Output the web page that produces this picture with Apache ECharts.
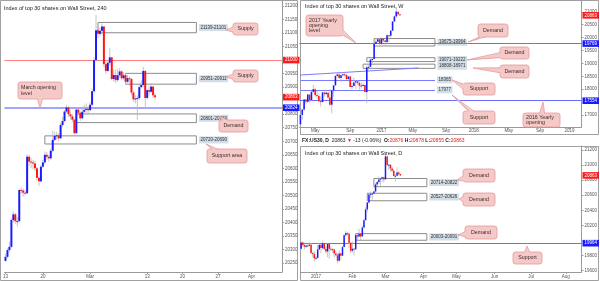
<!DOCTYPE html>
<html><head><meta charset="utf-8">
<script src="https://cdn.jsdelivr.net/npm/echarts@6/dist/echarts.min.js"></script>
<style>html,body{margin:0;padding:0;background:#fff}#c{width:600px;height:281px}</style>
</head><body><div id="c"></div>
<script>
// ---------------- DATA ----------------
// 240-minute chart (left): closes, lows, highs (open = previous close)
const h4FirstOpen = 20258;
const h4Close = [20273,20298,20310,20409,20430,20405,20405,20520,20518,20510,20508,20643,20625,20622,20618,20600,20565,20552,20606,20622,20650,20643,20637,20665,20705,20720,20722,20711,20760,20775,20810,20825,20800,20792,20780,20730,20817,20805,20785,20809,20816,20820,20815,20835,20885,21000,21110,21097,21108,21124,20985,20960,20990,21010,20930,20945,20926,20944,20958,20933,20944,20920,20933,20930,20880,20855,20858,20860,20900,20908,20960,20860,20889,20883,20902,20870,20863];
const h4Low = [20255,20268,20290,20305,20400,20395,20385,20400,20505,20495,20500,20505,20610,20600,20595,20590,20555,20535,20548,20600,20615,20630,20625,20632,20660,20700,20705,20700,20708,20752,20770,20805,20790,20780,20770,20725,20728,20795,20775,20780,20800,20805,20800,20810,20830,20880,20995,21080,21090,21095,20975,20950,20955,20980,20925,20920,20915,20920,20935,20925,20928,20910,20915,20905,20870,20845,20840,20779,20852,20895,20900,20822,20855,20870,20878,20860,20855];
const h4High = [20285,20305,20330,20415,20440,20435,20420,20525,20530,20525,20520,20650,20650,20640,20632,20628,20605,20570,20612,20630,20662,20660,20650,20672,20740,20735,20735,20730,20768,20790,20815,20835,20830,20815,20800,20785,20822,20825,20810,20822,20835,20840,20830,20845,20895,21010,21167,21125,21120,21135,21125,20995,21000,21045,21012,20965,20965,20968,20970,20962,20955,20950,20945,20940,20935,20885,20870,20870,20910,20925,20975,20962,20895,20905,20915,20905,20878];
const h4XTicks = [[0,'13'],[19,'20'],[43,'Mar'],[72,'13'],[90,'20'],[108,'27'],[125,'Apr']];
const h4YTicks = [20250,20300,20350,20400,20450,20500,20550,20600,20650,20700,20750,20800,20900,20950,21050,21100,21150,21200];
const h4Zones = [[47,97,21139,21101],[61,97,20951,20911],[36,97,20801,20769],[20,97,20720,20690]];
const h4Levels = {red:21000, march:20824, last:20863};

// Weekly chart (top right)
const wkFirstOpen = 16640;
const wkClose = [17006,17213,17602,17516,17792,17577,17897,18003,17773,17740,17535,17500,17873,17807,17865,17675,17400,17949,18147,18516,18571,18432,18544,18577,18553,18395,18492,18086,18124,18262,18308,18240,18138,18146,18161,17888,18848,18868,19153,19171,19757,19843,19934,19763,19964,19886,19827,20094,20071,20269,20624,20822,21006,20903,20863];
const wkLow = [16545,16820,17160,17420,17460,17480,17550,17880,17700,17630,17500,17330,17490,17700,17800,17600,17360,17063,17710,18150,18460,18400,18280,18480,18480,18360,18370,18080,17990,18120,18010,18170,17960,18020,18100,17880,17450,18740,18900,19000,19180,19790,19850,19720,19720,19830,19680,19790,19830,20000,20260,20620,20770,20830,20840];
const wkHigh = [17070,17220,17620,17630,17800,17800,17930,18170,18040,17930,17840,17720,17890,17900,18000,17870,18010,17960,18160,18540,18620,18620,18560,18670,18640,18600,18500,18540,18260,18450,18340,18350,18310,18260,18260,18190,18935,18930,19160,19230,19770,19990,19990,19980,19999,19990,19900,20130,20090,20290,20640,20850,21170,21010,20910];
const wkXTicks = [[8,'May'],[27,'Sep'],[44,'2017'],[61,'May'],[79,'Sep'],[94,'2018'],[113,'May'],[130,'Sep'],[146,'2019']];
const wkYTicks = [17000,18000,18500,19000,19500,20000,20500,21000];
const wkZones = [[40,73,19964,19675,'19675-19964'],[36,73,19222,19071,'19071-19222'],[34,73,18971,18808,'18808-18971']];
const wkSupports = [18365,17977];
const wkTrend = [[0,18550],[64,18822]];
const wkLevels = {open2017:19769, open2016:17554, last:20863};

// Daily chart (bottom right)
const dFirstOpen = 19890;
const dClose = [19974,19941,19918,19933,19930,19945,19833,19819,19762,19770,19881,19942,19899,19963,19887,19855,19954,19891,19885,19880,19826,19804,19732,19827,19799,19912,20068,20100,20093,19971,19864,19890,19884,20071,20052,20090,20054,20172,20269,20412,20504,20611,20619,20624,20650,20743,20775,20810,20821,20837,20812,21115,21002,21005,20954,20924,20855,20858,20902,20881,20863];
const dLow = [19880,19920,19880,19900,19915,19925,19820,19775,19720,19745,19760,19870,19830,19880,19875,19830,19780,19760,19860,19840,19780,19790,19700,19720,19740,19795,19910,20050,20060,19900,19830,19840,19800,19880,20000,20040,19990,20050,20160,20265,20380,20490,20560,20540,20610,20640,20720,20750,20720,20780,20770,20805,20990,20930,20910,20905,20850,20780,20855,20860,20855];
const dHigh = [19987,19986,19950,19945,19945,19980,19965,19850,19855,19790,19940,19960,19950,19999,19970,19920,19960,19950,19930,19895,19890,19860,19830,19870,19840,19930,20080,20125,20110,20090,19975,19990,19900,20080,20080,20155,20090,20200,20290,20440,20510,20620,20650,20630,20660,20760,20790,20850,20830,20850,20840,21169,21130,21010,21010,20980,20950,20880,20970,20920,20878];
const dXTicks = [[9,'2017'],[31,'Feb'],[51,'Mar'],[74,'Apr'],[94,'May'],[117,'Jun'],[139,'Jul'],[160,'Aug']];
const dYTicks = [19600,19800,20200,20400,20600,20800,21000,21200];
const dZones = [[44,76,20822,20714,'20714-20822'],[39.5,76,20626,20527,'20527-20626'],[33,76,20091,20003,'20003-20091']];
const dLevels = {support:19964, last:20863};

// ---------------- HELPERS ----------------
const FONT = '"Liberation Sans", Arial, sans-serif';
const BLUE = '#1a1aff', RED = '#ff1414', WICK = '#b8b8b8';

function buildCandles(firstOpen, closes, lows, highs) {
  return closes.map((c, i) => [i, i === 0 ? firstOpen : closes[i - 1], c, lows[i], highs[i]]);
}
function buildCats(n, ticks) {
  const a = new Array(n).fill('');
  ticks.forEach(([i, t]) => { a[i] = t; });
  return a;
}
function candleRender(ratio) {
  return function (params, api) {
    const i = api.value(0), o = api.value(1), c = api.value(2), l = api.value(3), h = api.value(4);
    const po = api.coord([i, o]), pc = api.coord([i, c]), pl = api.coord([i, l]), ph = api.coord([i, h]);
    const w = Math.max(api.size([1, 0])[0] * ratio, 1);
    const x = po[0];
    const top = Math.min(po[1], pc[1]);
    const hh = Math.max(Math.abs(po[1] - pc[1]), 1);
    return {type: 'group', children: [
      {type: 'line', shape: {x1: x, y1: ph[1], x2: x, y2: pl[1]}, style: {stroke: WICK, lineWidth: 0.8}},
      {type: 'rect', shape: {x: x - w / 2, y: top, width: w, height: hh}, style: {fill: c >= o ? BLUE : RED}}
    ]};
  };
}
function xCat(gridIndex, cats, margin) {
  const show = (i, v) => v !== '';
  return {type: 'category', gridIndex, data: cats, boundaryGap: true,
    axisLine: {show: true, lineStyle: {color: '#9a9a9a', width: 1}},
    axisTick: {show: true, alignWithLabel: true, length: 2, interval: show, lineStyle: {color: '#9a9a9a'}},
    axisLabel: {show: true, interval: show, fontSize: 4.5, color: '#555', margin, fontFamily: FONT},
    splitLine: {show: false}};
}
function yVal(gridIndex, min, max, ticks) {
  return {type: 'value', gridIndex, position: 'right', min, max,
    axisLine: {show: true, lineStyle: {color: '#9a9a9a'}},
    axisTick: {show: true, length: 2, customValues: ticks, lineStyle: {color: '#9a9a9a'}},
    axisLabel: {show: true, customValues: ticks, fontSize: 4.5, color: '#555', margin: 3, fontFamily: FONT,
      formatter: v => String(Math.round(v))},
    splitLine: {show: false}};
}
function priceTag(v, bg, line, width) {
  return {yAxis: v,
    lineStyle: {color: line || 'rgba(0,0,0,0)', width: width || 1, type: 'solid'},
    label: {show: true, position: 'end', distance: 1, formatter: String(v), color: '#fff',
      backgroundColor: bg, fontSize: 4.5, padding: [0.8, 2], fontFamily: FONT}};
}
const zoneLabel = (txt, pos) => ({show: true, position: pos || 'right', distance: 2, formatter: txt, fontSize: 4.5,
  color: '#333', backgroundColor: '#d3dde7', padding: [1, 1.5], fontFamily: FONT});
function zoneArea(z) {
  const txt = z[4] || (z[2] + '-' + z[3]);
  return [{xAxis: z[0], yAxis: z[2], label: zoneLabel(txt)}, {xAxis: z[1], yAxis: z[3]}];
}
const zoneStyle = {color: 'rgba(255,255,255,0)', borderColor: '#8c8c8c', borderWidth: 1};
function supportSegment(v) {
  const ls = {color: '#7a7aff', width: 1, type: 'solid'};
  return [
    {coord: [0, v], lineStyle: ls, label: zoneLabel(String(v), 'end')},
    {coord: [73, v], lineStyle: ls, label: zoneLabel(String(v), 'end')}
  ];
}

// ---------------- ANNOTATIONS ----------------
function bubble(x, y, w, h, tx, ty, text, align) {
  const cx = x + w / 2, cy = y + h / 2, dx = tx - cx, dy = ty - cy, half = 2.5;
  let e1, e2, f1, f2;
  if (Math.abs(dx) / (w / 2) > Math.abs(dy) / (h / 2)) {
    const ex = dx < 0 ? x : x + w;
    let ey = cy + dy * ((ex - cx) / dx);
    ey = Math.max(y + half + 1, Math.min(y + h - half - 1, ey));
    const ins = dx < 0 ? 1 : -1;
    e1 = [ex, ey - half]; e2 = [ex, ey + half]; f1 = [ex + ins, ey - half]; f2 = [ex + ins, ey + half];
  } else {
    const ey = dy < 0 ? y : y + h;
    let ex = cx + dx * ((ey - cy) / dy);
    ex = Math.max(x + half + 2, Math.min(x + w - half - 2, ex));
    const ins = dy < 0 ? 1 : -1;
    e1 = [ex - half, ey]; e2 = [ex + half, ey]; f1 = [ex - half, ey + ins]; f2 = [ex + half, ey + ins];
  }
  const fill = '#f6c9c9', stroke = '#e49999';
  const left = align === 'left';
  return [
    {type: 'rect', z: 50, silent: true, shape: {x, y, width: w, height: h, r: 2.5}, style: {fill, stroke, lineWidth: 0.8}},
    {type: 'polygon', z: 51, silent: true, shape: {points: [f1, [tx, ty], f2]}, style: {fill}},
    {type: 'polyline', z: 52, silent: true, shape: {points: [e1, [tx, ty], e2]}, style: {stroke, lineWidth: 0.8, fill: 'none'}},
    {type: 'text', z: 53, silent: true, x: left ? x + 3 : cx, y: cy,
      style: {text, align: left ? 'left' : 'center', verticalAlign: 'middle', fontSize: 5.3, lineHeight: 5.2,
        fill: '#3b2a2a', fontFamily: FONT}}
  ];
}
const callouts = [
  [233, 23, 25, 12, 226, 30, 'Supply'],
  [233, 70, 25, 12, 226, 77, 'Supply'],
  [18, 82, 44, 17, 40, 108, 'March opening\nlevel', 'left'],
  [219, 120, 29, 12, 220, 116, 'Demand'],
  [207, 149, 40, 14, 206, 144, 'Support area'],
  [306, 15, 37, 21, 356, 43, '2017 Yearly\nopening\nlevel', 'left'],
  [478, 24, 30, 13, 468, 42, 'Demand'],
  [500, 47, 29, 12, 467, 60, 'Demand'],
  [500, 65, 29, 13, 473, 68, 'Demand'],
  [463, 83, 32, 12, 452, 80, 'Support'],
  [463, 111, 32, 13, 452, 95, 'Support'],
  [523, 113, 37, 14, 543, 102, '2016 Yearly\nopening', 'left'],
  [463, 169, 32, 13, 457, 180, 'Demand'],
  [463, 193, 32, 13, 459, 199, 'Demand'],
  [465, 226, 32, 13, 458, 235, 'Demand'],
  [513, 252, 29, 12, 527, 246, 'Support']
];

const graphic = [
  {type: 'rect', z: -10, silent: true, shape: {x: 0.5, y: 0.5, width: 297, height: 280}, style: {fill: 'none', stroke: '#a0a0a0', lineWidth: 1}},
  {type: 'rect', z: -10, silent: true, shape: {x: 300.5, y: 0.5, width: 298, height: 134}, style: {fill: 'none', stroke: '#a0a0a0', lineWidth: 1}},
  {type: 'rect', z: -10, silent: true, shape: {x: 300.5, y: 146.5, width: 298, height: 134}, style: {fill: 'none', stroke: '#a0a0a0', lineWidth: 1}},
  {type: 'text', z: 40, silent: true, x: 4, y: 8, style: {text: 'Index of top 30 shares on Wall Street, 240', fontSize: 5.5, fill: '#222', verticalAlign: 'middle', fontFamily: FONT}},
  {type: 'text', z: 40, silent: true, x: 305, y: 6, style: {text: 'Index of top 30 shares on Wall Street, W', fontSize: 5.5, fill: '#222', verticalAlign: 'middle', fontFamily: FONT}},
  {type: 'text', z: 40, silent: true, x: 305, y: 153, style: {text: 'Index of top 30 shares on Wall Street, D', fontSize: 5.5, fill: '#222', verticalAlign: 'middle', fontFamily: FONT}},
  {type: 'text', z: 40, silent: true, x: 302, y: 141, style: {
    text: '{b|FX:US30, D}  {n|20863} {r|▼} {n|-13 (-0.06%)}  {b|O:}{r|20876} {b|H:}{r|20878} {b|L:}{r|20855} {b|C:}{r|20863}',
    verticalAlign: 'middle', fontSize: 5, fontFamily: FONT,
    rich: {b: {fontWeight: 'bold', fontSize: 5, fill: '#222', fontFamily: FONT},
           n: {fontSize: 5, fill: '#222', fontFamily: FONT},
           r: {fontSize: 5, fill: '#e0201f', fontFamily: FONT}}}}
];
callouts.forEach(c => graphic.push(...bubble(...c)));

// ---------------- CHART ----------------
const chart = echarts.init(document.getElementById('c'), null, {renderer: 'canvas'});
chart.setOption({
  animation: false,
  backgroundColor: '#ffffff',
  textStyle: {fontFamily: FONT},
  grid: [
    {left: 0, top: 0, width: 282, height: 272},
    {left: 299.5, top: 1, width: 283, height: 126},
    {left: 300.3, top: 146, width: 282.2, height: 126}
  ],
  xAxis: [
    xCat(0, buildCats(141, h4XTicks), 2),
    xCat(1, buildCats(153, wkXTicks), 1.5),
    xCat(2, buildCats(170, dXTicks), 2)
  ],
  yAxis: [
    yVal(0, 20217, 21222, h4YTicks),
    yVal(1, 16535, 21419, wkYTicks),
    yVal(2, 19582, 21253, dYTicks)
  ],
  series: [
    {type: 'line', xAxisIndex: 0, yAxisIndex: 0, data: [], clip: false, silent: true, z: 2,
      markArea: {silent: true, itemStyle: zoneStyle, data: h4Zones.map(zoneArea)},
      markLine: {silent: true, symbol: ['none', 'none'], data: [
        priceTag(h4Levels.red, '#ff1a1a', '#ff7d7d', 1),
        priceTag(h4Levels.march, '#1a1aff', '#a4a4ff', 2),
        priceTag(h4Levels.last, '#ff1a1a', null, 1)
      ]}},
    {type: 'custom', xAxisIndex: 0, yAxisIndex: 0, z: 5, silent: true, clip: false,
      renderItem: candleRender(1.0), encode: {x: 0, y: [1, 2, 3, 4]},
      data: buildCandles(h4FirstOpen, h4Close, h4Low, h4High)},

    {type: 'line', xAxisIndex: 1, yAxisIndex: 1, data: [], clip: false, silent: true, z: 2,
      markArea: {silent: true, itemStyle: zoneStyle, data: wkZones.map(zoneArea)},
      markLine: {silent: true, symbol: ['none', 'none'], data: [
        priceTag(wkLevels.open2017, '#1a1aff', '#6f6fff', 1),
        priceTag(wkLevels.open2016, '#1a1aff', '#6f6fff', 1),
        priceTag(wkLevels.last, '#ff1a1a', null, 1),
        ...wkSupports.map(supportSegment),
        [{coord: wkTrend[0], lineStyle: {color: '#7a7aff', width: 1, type: 'solid'}, label: {show: false}},
         {coord: wkTrend[1], lineStyle: {color: '#7a7aff', width: 1, type: 'solid'}, label: {show: false}}]
      ]}},
    {type: 'custom', xAxisIndex: 1, yAxisIndex: 1, z: 5, silent: true, clip: false,
      renderItem: candleRender(0.85), encode: {x: 0, y: [1, 2, 3, 4]},
      data: buildCandles(wkFirstOpen, wkClose, wkLow, wkHigh)},

    {type: 'line', xAxisIndex: 2, yAxisIndex: 2, data: [], clip: false, silent: true, z: 2,
      markArea: {silent: true, itemStyle: zoneStyle, data: dZones.map(zoneArea)},
      markLine: {silent: true, symbol: ['none', 'none'], data: [
        priceTag(dLevels.support, '#1a1aff', '#6f6fff', 1),
        priceTag(dLevels.last, '#ff1a1a', null, 1)
      ]}},
    {type: 'custom', xAxisIndex: 2, yAxisIndex: 2, z: 5, silent: true, clip: false,
      renderItem: candleRender(0.9), encode: {x: 0, y: [1, 2, 3, 4]},
      data: buildCandles(dFirstOpen, dClose, dLow, dHigh)}
  ],
  graphic: graphic
});
</script></body></html>
